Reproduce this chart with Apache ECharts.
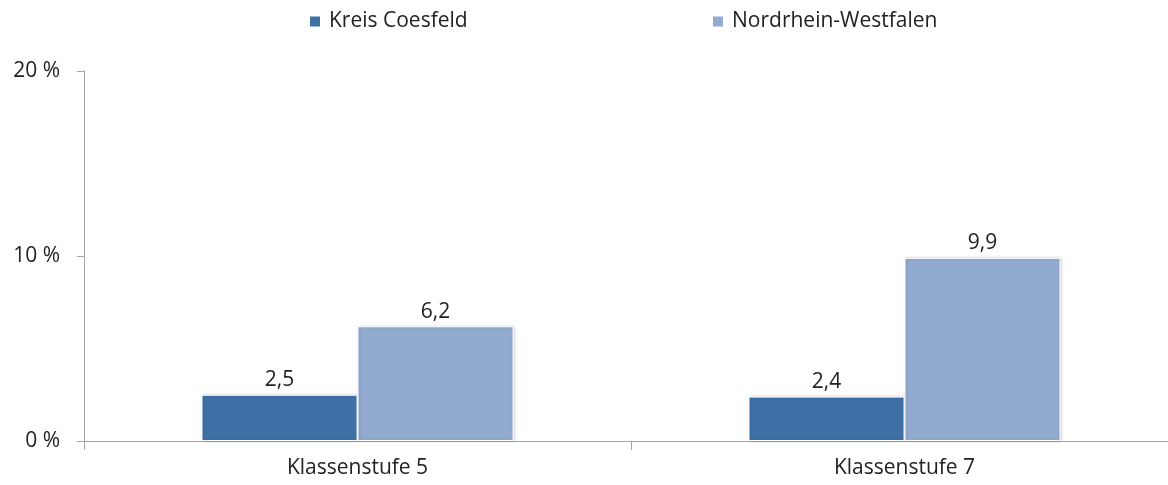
<!DOCTYPE html>
<html><head><meta charset="utf-8">
<script src="https://cdn.jsdelivr.net/npm/echarts@6/dist/echarts.min.js"></script>
<style>html,body{margin:0;padding:0;background:#fff}#c{width:1168px;height:485px}</style>
</head><body><div id="c"></div>
<script>
const categories = ['Klassenstufe 5', 'Klassenstufe 7'];
const seriesNames = ['Kreis Coesfeld', 'Nordrhein-Westfalen'];
const kreisValues = [2.5, 2.4];
const nrwValues = [6.2, 9.9];
const yTicks = [0, 10, 20];

const font = "'Open Sans', 'Liberation Sans', sans-serif";
const fmt = v => String(v).replace('.', ',');
const chart = echarts.init(document.getElementById('c'), null, {renderer: 'canvas'});
const colors = ['#3E70A5', '#93AAD0'];
const legendText = {fontSize: 21, color: '#222', fontFamily: font, padding: [0, 0, 0, 3]};
chart.setOption({
  animation: false,
  textStyle: {fontFamily: font},
  legend: [
    {data: [seriesNames[0]], left: 303, top: 6, itemWidth: 12, itemHeight: 12, icon: 'rect', textStyle: legendText},
    {data: [seriesNames[1]], left: 706, top: 6, itemWidth: 12, itemHeight: 12, icon: 'rect', textStyle: legendText}
  ],
  grid: {left: 84, right: -10, top: 71, bottom: 44, containLabel: false, outerBoundsMode: 'none'},
  xAxis: {
    type: 'category', data: categories,
    axisLine: {lineStyle: {color: '#a6a6a6', width: 1}},
    axisTick: {show: true, length: 9, lineStyle: {color: '#a6a6a6'}},
    axisLabel: {fontSize: 21, color: '#222', margin: 17, fontFamily: font}
  },
  yAxis: {
    type: 'value', min: yTicks[0], max: yTicks[yTicks.length - 1], interval: 10,
    axisLine: {show: true, lineStyle: {color: '#a6a6a6'}},
    axisTick: {show: true, length: 7, lineStyle: {color: '#a6a6a6'}},
    splitLine: {show: false},
    axisLabel: {fontSize: 21, color: '#222', margin: 24, formatter: v => v + ' %', fontFamily: font}
  },
  series: [
    {name: seriesNames[0], type: 'bar', data: kreisValues, barWidth: 156, barGap: '0%',
     itemStyle: {color: colors[0], borderColor: '#fff', borderWidth: 1,
       shadowColor: 'rgba(0,0,0,0.18)', shadowBlur: 3, shadowOffsetX: 1},
     label: {show: true, position: 'top', distance: 4, fontSize: 21, color: '#222', fontFamily: font,
       formatter: p => fmt(p.value)}},
    {name: seriesNames[1], type: 'bar', data: nrwValues, barWidth: 156,
     itemStyle: {color: colors[1], borderColor: '#fff', borderWidth: 1,
       shadowColor: 'rgba(0,0,0,0.18)', shadowBlur: 3, shadowOffsetX: 1},
     label: {show: true, position: 'top', distance: 4, fontSize: 21, color: '#222', fontFamily: font,
       formatter: p => fmt(p.value)}}
  ]
});
</script></body></html>
